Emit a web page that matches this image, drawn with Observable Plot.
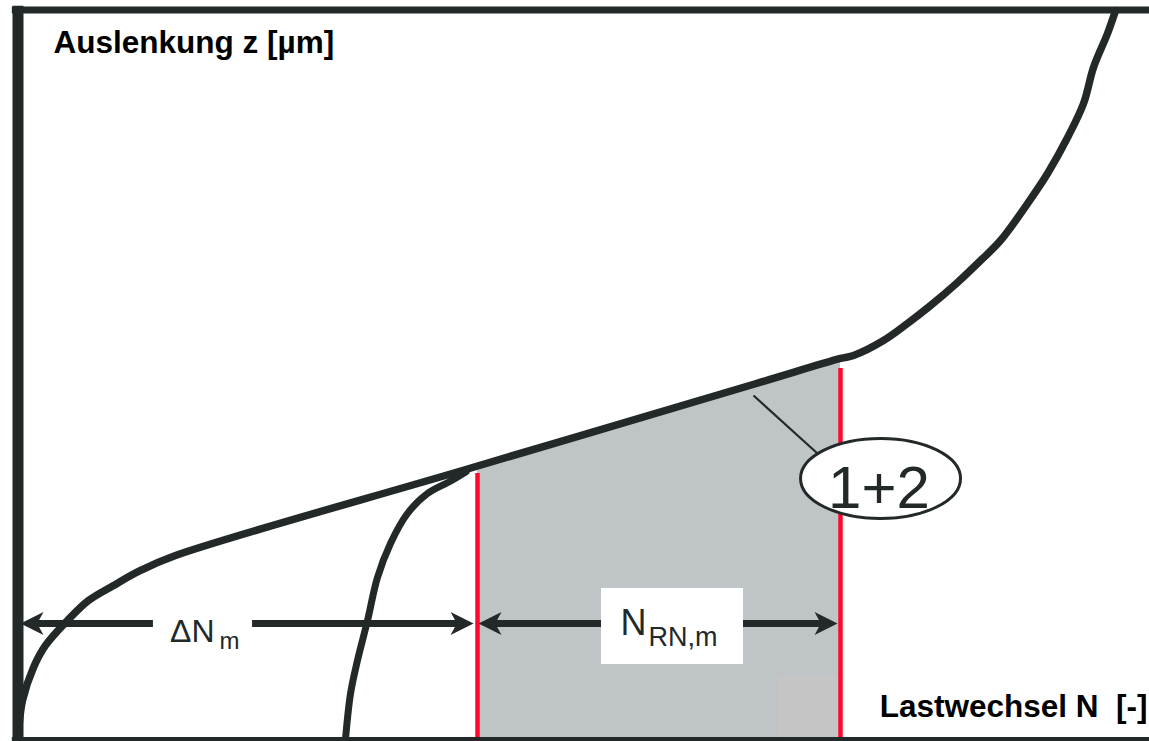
<!DOCTYPE html>
<html>
<head>
<meta charset="utf-8">
<script src="https://cdn.jsdelivr.net/npm/d3@7"></script>
<script src="https://cdn.jsdelivr.net/npm/@observablehq/plot@0.6"></script>
<style>
  html, body { margin: 0; padding: 0; background: #fff; }
  svg { display: block; }
</style>
</head>
<body>
<div id="chart"></div>
<script>
// Deflection z versus load cycles N, schematic units (0–100 on both axes)

// Curve of specimen 1: run-in, linear wear phase, final rise
const curve1N = [0.13, 0.40, 1.37, 2.43, 4.37, 6.23, 8.44, 10.83, 13.92, 39.73, 65.18, 72.69,
  73.84, 76.49, 78.61, 80.65, 83.03, 85.07, 86.83, 89.22, 90.99, 92.76, 94.17, 95.05, 96.29, 97.0];
const curve1Z = [2.33, 5.35, 9.87, 12.89, 16.31, 19.05, 21.11, 23.17, 25.22, 37.08, 48.77, 52.23,
  52.64, 54.69, 57.03, 59.49, 62.65, 65.66, 68.40, 73.47, 77.59, 82.52, 87.18, 92.12, 96.78, 99.93];

// Curve of specimen 2: run-in that joins the common linear phase
const curve2N = [28.94, 29.39, 30.0, 30.89, 31.77, 32.92, 34.42, 36.19, 38.2, 39.6];
const curve2Z = [0, 6.31, 10.83, 16.31, 22.21, 26.87, 30.98, 33.72, 35.4, 36.7];

// Evaluation interval N_RN,m (start / end in N) and the deflection at its bounds
const intervalN = [40.61, 72.69];
const intervalZ = [37.48, 52.23];
const markerTopZ = [36.46, 50.86];

// Dimension arrows
const arrowLabels = ["ΔN", "N"];
const arrowSubs = ["m", "RN,m"];
const arrowFrom = [0.22, 40.70];
const arrowTo = [40.26, 72.43];
const arrowZ = 15.90;

// Callout for the common phase
const calloutText = "1+2";

// Axis titles
const yTitle = "Auslenkung z [µm]";
const xTitle = "Lastwechsel N\u00a0\u00a0[-]";

const dark = "#232829";
const red = "#ff0a2e";
const font = "Liberation Sans, Arial, Helvetica, sans-serif";

const zip = (xs, ys) => xs.map((N, i) => ({N, z: ys[i]}));
const curve1 = zip(curve1N, curve1Z);
const curve2 = zip(curve2N, curve2Z);
const interval = zip(intervalN, intervalZ);
const markers = intervalN.map((N, i) => ({N, top: markerTopZ[i]}));

// Stealth arrowhead, tip at the origin pointing to +x
const arrowHead = {
  draw(ctx, size) {
    const r = Math.sqrt(size / Math.PI);
    ctx.moveTo(0, 0);
    ctx.lineTo(-2 * r, -r);
    ctx.lineTo(-1.45 * r, 0);
    ctx.lineTo(-2 * r, r);
    ctx.closePath();
  }
};

// Ellipse twice as wide as high
const ellipse = {
  draw(ctx, size) {
    const r = Math.sqrt(size / Math.PI);
    const rx = 2 * r, ry = r, k = 0.5523;
    ctx.moveTo(rx, 0);
    ctx.bezierCurveTo(rx, ry * k, rx * k, ry, 0, ry);
    ctx.bezierCurveTo(-rx * k, ry, -rx, ry * k, -rx, 0);
    ctx.bezierCurveTo(-rx, -ry * k, -rx * k, -ry, 0, -ry);
    ctx.bezierCurveTo(rx * k, -ry, rx, -ry * k, rx, 0);
    ctx.closePath();
  }
};

const arrows = arrowFrom.map((a, i) => ({from: a, to: arrowTo[i], z: arrowZ}));
const heads = arrows.flatMap(d => [
  {N: d.from, z: d.z, rot: 180},
  {N: d.to, z: d.z, rot: 0}
]);

const chart = Plot.plot({
  width: 1149,
  height: 741,
  marginLeft: 17.5,
  marginRight: 0,
  marginTop: 9.5,
  marginBottom: 2,
  x: {domain: [0, 100], axis: null},
  y: {domain: [0, 100], axis: null},
  style: {background: "#fff", fontFamily: font},
  marks: [
    // shaded evaluation interval
    Plot.areaY(interval, {x: "N", y1: 0, y2: "z", fill: "#bfc4c6"}),
    Plot.rect([{a: 67.21, b: 72.52, top: 8.77}], {x1: "a", x2: "b", y1: 0, y2: "top", fill: "#c5c5c5"}),
    // interval bounds
    Plot.ruleX(markers, {x: "N", y1: -0.5, y2: "top", stroke: red, strokeWidth: 4.5}),
    // deflection curves
    Plot.line(curve1, {x: "N", y: "z", stroke: dark, strokeWidth: 7.5, curve: "catmull-rom"}),
    Plot.line(curve2, {x: "N", y: "z", stroke: dark, strokeWidth: 7, curve: "catmull-rom"}),
    // callout
    Plot.link([{x1: 65.0, y1: 47.16, x2: 70.66, y2: 39.20}], {x1: "x1", y1: "y1", x2: "x2", y2: "y2", stroke: dark, strokeWidth: 2.2}),
    Plot.dot([{N: 76.23, z: 35.78}], {x: "N", y: "z", r: 40, symbol: ellipse, fill: "#fff", stroke: dark, strokeWidth: 3}),
    Plot.text([calloutText], {x: 76.09, y: 31.67, text: d => d, fontSize: 60, fill: dark, lineAnchor: "bottom", textAnchor: "middle"}),
    // dimension arrows
    Plot.ruleY(arrows, {x1: "from", x2: "to", y: "z", stroke: dark, strokeWidth: 7, insetLeft: 12, insetRight: 12}),
    Plot.rect([{a: 11.97, b: 20.73, lo: 12.2, hi: 19.05}, {a: 51.57, b: 64.12, lo: 10.28, hi: 20.70}],
      {x1: "a", x2: "b", y1: "lo", y2: "hi", fill: "#fff"}),
    Plot.dot(heads.filter(d => d.rot === 0), {x: "N", y: "z", r: 11.5, symbol: arrowHead, fill: dark, stroke: "none"}),
    Plot.dot(heads.filter(d => d.rot === 180), {x: "N", y: "z", r: 11.5, symbol: arrowHead, fill: dark, stroke: "none", rotate: 180}),
    Plot.text([arrowLabels[0]], {x: 17.37, y: 13.43, text: d => d, fontSize: 32, fill: dark, textAnchor: "end", lineAnchor: "bottom"}),
    Plot.text([arrowSubs[0]], {x: 17.81, y: 12.47, text: d => d, fontSize: 24, fill: dark, textAnchor: "start", lineAnchor: "bottom"}),
    Plot.text([arrowLabels[1]], {x: 53.25, y: 14.39, text: d => d, fontSize: 36, fill: dark, textAnchor: "start", lineAnchor: "bottom"}),
    Plot.text([arrowSubs[1]], {x: 55.72, y: 12.75, text: d => d, fontSize: 27, fill: dark, textAnchor: "start", lineAnchor: "bottom"}),
    // frame
    Plot.ruleX([0], {y1: -0.5, y2: 100.5, stroke: dark, strokeWidth: 11}),
    Plot.ruleY([100], {x1: -0.5, x2: 101, stroke: dark, strokeWidth: 7}),
    Plot.ruleY([0], {x1: -0.5, x2: 101, stroke: dark, strokeWidth: 7, dy: 1}),
    // axis titles
    Plot.text([yTitle], {x: 3.14, y: 94.04, text: d => d, fontSize: 31.5, fontWeight: "bold", fill: "#000", textAnchor: "start", lineAnchor: "bottom"}),
    Plot.text([xTitle], {x: 99.82, y: 3.06, text: d => d, fontSize: 31.5, fontWeight: "bold", fill: "#000", textAnchor: "end", lineAnchor: "bottom"})
  ]
});

document.getElementById("chart").append(chart);
</script>
</body>
</html>
